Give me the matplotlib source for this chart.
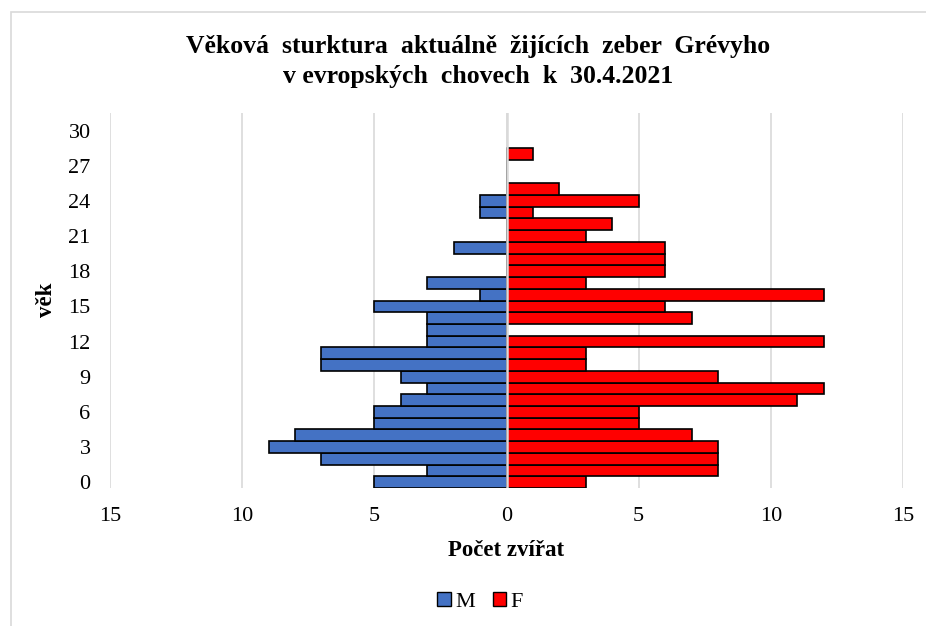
import matplotlib
matplotlib.use('Agg')
import matplotlib.pyplot as plt
from matplotlib.patches import Rectangle, Patch
import numpy as np

# vek 0..28, pocty samcu (M) a samic (F)
ages = list(range(29))
males = [5, 3, 7, 9, 8, 5, 5, 4, 3, 4, 7, 7, 3, 3, 3, 5, 1, 3, 0, 0, 2, 0, 0, 1, 1, 0, 0, 0, 0]
females = [3, 8, 8, 8, 7, 5, 5, 11, 12, 8, 3, 3, 12, 0, 7, 6, 12, 3, 6, 6, 6, 3, 4, 1, 5, 2, 0, 0, 1]
xticks = [-15, -10, -5, 0, 5, 10, 15]
yticks = list(range(0, 31, 3))

plt.rcParams['font.family'] = ['Liberation Serif', 'DejaVu Serif']

fig = plt.figure(figsize=(9.26, 6.26), dpi=100)
ax = fig.add_axes([0.1188, 0.2204, 0.8564, 0.5991])

# ramecek grafu
fig.patches.append(Rectangle((11 / 926, -0.1), 1.2, 1 - 12 / 626 + 0.1, transform=fig.transFigure,
                             fill=False, edgecolor='#d9d9d9', linewidth=1.2))

ax.barh(ages, -np.array(males), height=1.0, color='#4472C4', edgecolor='black', linewidth=1.2, zorder=3)
ax.barh(ages, females, height=1.0, color='#FF0000', edgecolor='black', linewidth=1.2, zorder=3)
ax.axvline(0, color='#d9d9d9', linewidth=1.8, zorder=4)

ax.set_xlim(-15, 15)
ax.set_ylim(-0.5, 31.5)
ax.set_xticks(xticks)
ax.set_xticklabels([str(abs(t)) for t in xticks], fontsize=16)
ax.set_yticks(yticks)
ax.set_yticklabels([str(t) for t in yticks], fontsize=16)
ax.tick_params(length=0)
ax.tick_params(axis='x', pad=14)
ax.tick_params(axis='y', pad=14)
ax.grid(axis='x', color='#d9d9d9', linewidth=1.2, zorder=0)
for s in ax.spines.values():
    s.set_visible(False)

ax.set_xlabel('Počet zvířat', fontsize=16.5, fontweight='bold', labelpad=10)
fig.text(46 / 926, 1 - 300 / 626, 'věk', rotation=90, fontsize=16.5, fontweight='bold',
         ha='center', va='center')

fig.text(478 / 926, 1 - 46 / 626, 'Věková  sturktura  aktuálně  žijících  zeber  Grévyho',
         fontsize=18.5, fontweight='bold', ha='center', va='center')
fig.text(478 / 926, 1 - 76 / 626, 'v evropských  chovech  k  30.4.2021',
         fontsize=18.5, fontweight='bold', ha='center', va='center')

handles = [Patch(facecolor='#4472C4', edgecolor='black', label='M'),
           Patch(facecolor='#FF0000', edgecolor='black', label='F')]
fig.legend(handles=handles, loc='center', bbox_to_anchor=(480 / 926, 1 - 602 / 626), ncol=2,
           frameon=False, fontsize=16, handlelength=0.6, handleheight=0.6, handletextpad=0.2,
           columnspacing=0.8)

fig.savefig('out.png', dpi=100)
